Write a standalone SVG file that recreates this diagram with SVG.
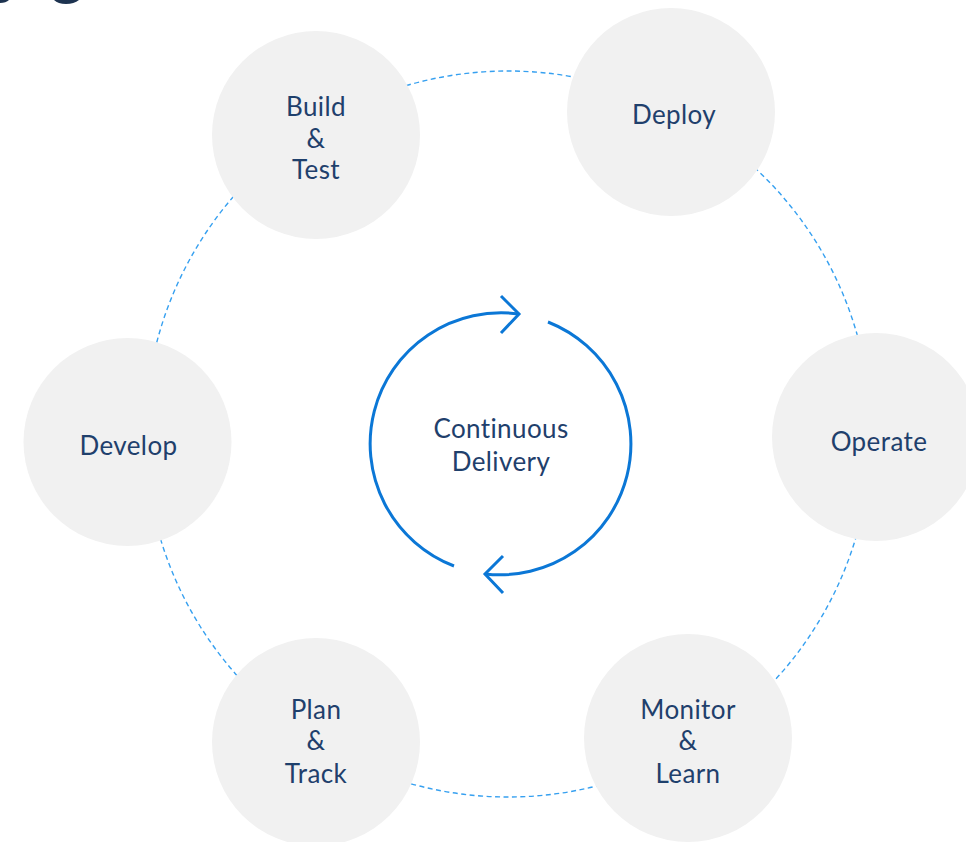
<svg xmlns="http://www.w3.org/2000/svg" width="966" height="842" viewBox="0 0 966 842">
  <style>
    .node { fill: #f1f1f1; }
    .label { font-family: Lato, "Open Sans", "Liberation Sans", sans-serif; font-size: 26px; letter-spacing: 0.4px; fill: #1f406c; text-anchor: middle; }
    .ring { fill: none; stroke: #36a0f0; stroke-width: 1.4; stroke-dasharray: 5 3.5; }
    .cycle { fill: none; stroke: #0b77d6; stroke-width: 3; stroke-linecap: butt; stroke-linejoin: miter; }
  </style>
  <rect width="966" height="842" fill="#ffffff"/>

  <!-- cropped edge marks at the top -->
  <g id="edge-marks" fill="#1d3350">
    <path d="M0,0 H9 Q6,3 0,3 Z"/>
    <path d="M54,0 H79 Q74,4 66,4 Q58,4 54,0 Z"/>
  </g>

  <!-- connectors: dashed orbit and central cycle -->
  <g id="connectors">
    <circle class="ring" cx="508" cy="434" r="363"/>
    <path class="cycle" d="M454,566 A131,131 0 0 1 519,314"/>
    <path class="cycle" d="M501,296 L519,314 L501,333"/>
    <path class="cycle" d="M548,322 A131,131 0 0 1 485,574"/>
    <path class="cycle" d="M503,556 L485,574 L503,593"/>
  </g>

  <g id="build-test">
    <circle class="node" cx="316" cy="135" r="104"/>
    <text class="label" x="316" y="116">Build</text>
    <text class="label" x="316" y="148">&amp;</text>
    <text class="label" x="316" y="179">Test</text>
  </g>

  <g id="deploy">
    <circle class="node" cx="671" cy="112" r="104"/>
    <text class="label" x="674" y="124">Deploy</text>
  </g>

  <g id="operate">
    <circle class="node" cx="876" cy="437" r="104"/>
    <text class="label" x="879" y="451">Operate</text>
  </g>

  <g id="monitor-learn">
    <circle class="node" cx="688" cy="738" r="104"/>
    <text class="label" x="688" y="719">Monitor</text>
    <text class="label" x="688" y="750">&amp;</text>
    <text class="label" x="688" y="783">Learn</text>
  </g>

  <g id="plan-track">
    <circle class="node" cx="316" cy="742" r="104"/>
    <text class="label" x="316" y="719">Plan</text>
    <text class="label" x="316" y="750">&amp;</text>
    <text class="label" x="316" y="783">Track</text>
  </g>

  <g id="develop">
    <circle class="node" cx="127.5" cy="442" r="104"/>
    <text class="label" x="128.5" y="455">Develop</text>
  </g>

  <g id="continuous-delivery">
    <text class="label" x="501" y="438">Continuous</text>
    <text class="label" x="501" y="471">Delivery</text>
  </g>
</svg>
